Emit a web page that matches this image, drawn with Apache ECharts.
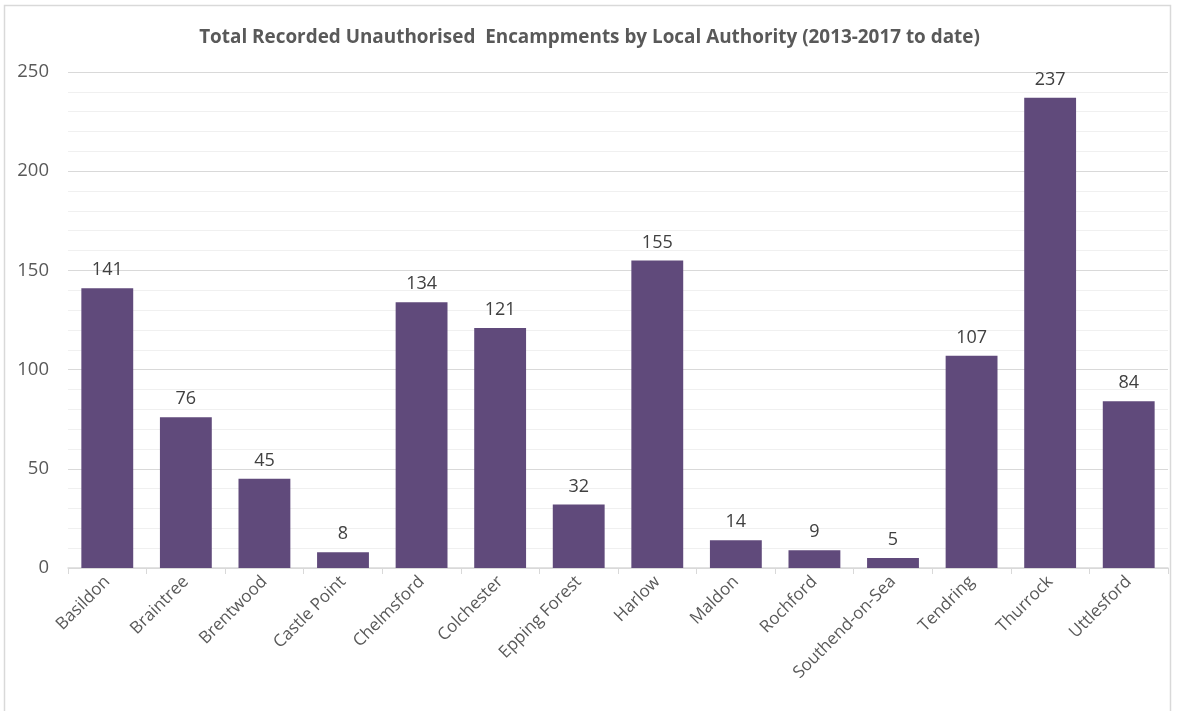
<!DOCTYPE html>
<html><head><meta charset="utf-8">
<script src="https://cdn.jsdelivr.net/npm/echarts@6/dist/echarts.min.js"></script>
<style>html,body{margin:0;padding:0;background:#fff}#c{width:1179px;height:711px}</style>
</head><body><div id="c"></div>
<script>
const titleText = 'Total Recorded Unauthorised  Encampments by Local Authority (2013-2017 to date)';
const categories = ['Basildon','Braintree','Brentwood','Castle Point','Chelmsford','Colchester','Epping Forest','Harlow','Maldon','Rochford','Southend-on-Sea','Tendring','Thurrock','Uttlesford'];
const values = [141,76,45,8,134,121,32,155,14,9,5,107,237,84];
const yTicks = [0,50,100,150,200,250];

const chart = echarts.init(document.getElementById('c'));
chart.setOption({
  animation:false,
  graphic:[{type:'rect',shape:{x:4.5,y:5.5,width:1166,height:710},style:{fill:'none',stroke:'#d9d9d9',lineWidth:1.5},silent:true}],
  title:{text:titleText,left:'center',top:23,textStyle:{fontFamily:'Open Sans',fontWeight:'bold',fontSize:18.9,color:'#595959'}},
  grid:{left:68,right:11,top:72,bottom:143},
  xAxis:{type:'category',data:categories,
    axisLine:{lineStyle:{color:'#d9d9d9',width:1.5}},
    axisTick:{show:true,length:6,lineStyle:{color:'#d9d9d9'}},
    axisLabel:{rotate:45,fontFamily:'Open Sans',fontSize:17,color:'#595959',margin:11,interval:0}},
  yAxis:{type:'value',min:yTicks[0],max:yTicks[yTicks.length-1],interval:50,
    axisLine:{show:false},axisTick:{show:false},
    axisLabel:{fontFamily:'Open Sans',fontSize:18.5,color:'#595959',margin:19},
    splitLine:{lineStyle:{color:'#d9d9d9',width:1}},
    minorTick:{show:false,splitNumber:5},
    minorSplitLine:{show:true,lineStyle:{color:'#f0f0f0',width:1}}},
  series:[{type:'bar',data:values,barCategoryGap:'34%',
    itemStyle:{color:'#604A7B'},
    label:{show:true,position:'top',distance:9,fontFamily:'Open Sans',fontSize:18,color:'#404040'}}]
});
</script></body></html>
